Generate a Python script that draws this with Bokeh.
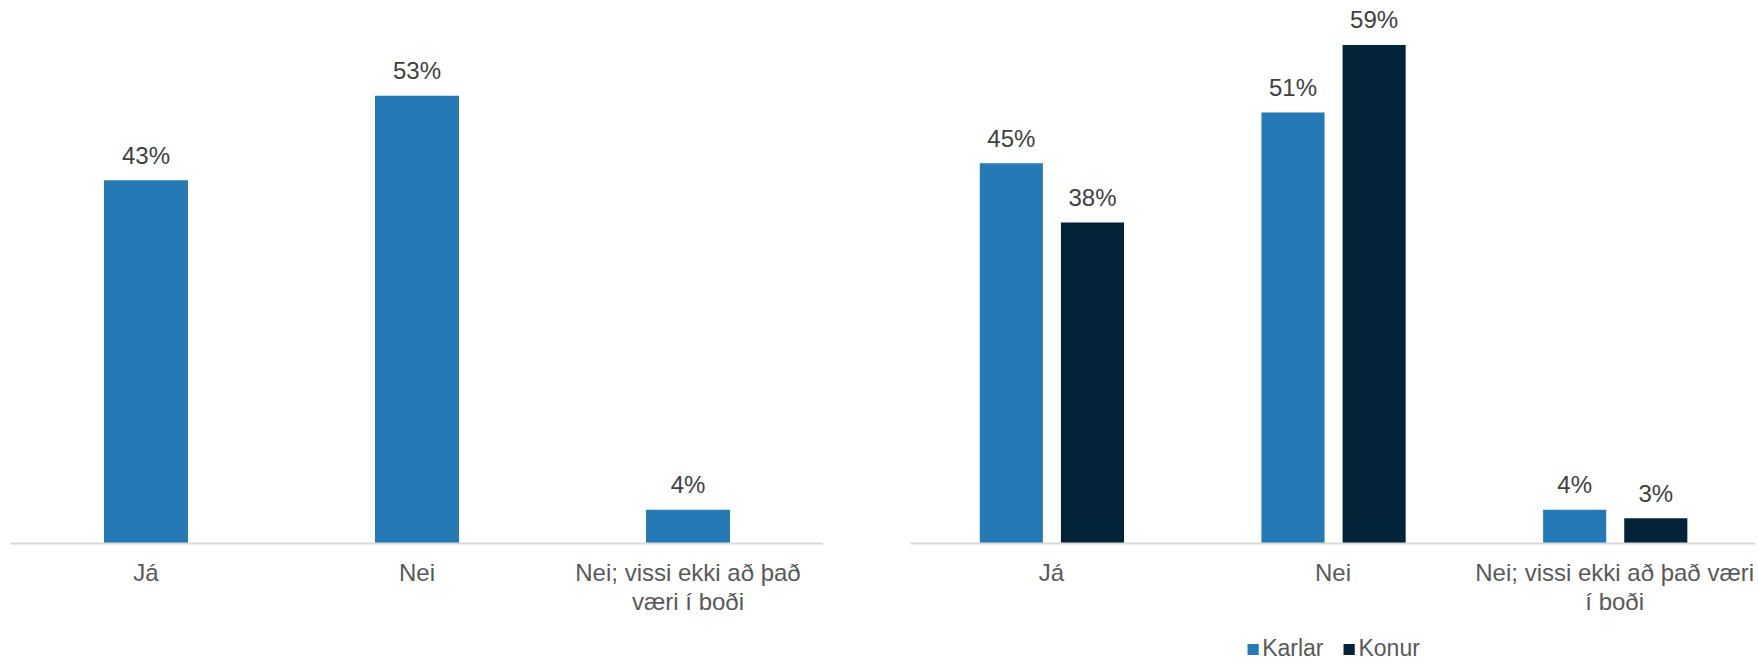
from bokeh.plotting import figure
from bokeh.layouts import row
from bokeh.models import ColumnDataSource, Legend, LegendItem, Range1d
from bokeh.transform import dodge
from bokeh.core.properties import value
from bokeh.embed import file_html
from bokeh.resources import INLINE

# ---- data ----
categories = ["Já", "Nei", "Nei; vissi ekki að það væri í boði"]
total = [43, 53, 4]
karlar = [45, 51, 4]
konur = [38, 59, 3]
series_names = ["Karlar", "Konur"]
left_labels = ["Já", "Nei", "Nei; vissi ekki að það\nværi í boði"]
right_labels = ["Já", "Nei", "Nei; vissi ekki að það væri\ní boði"]

BLUE = "#2579b5"
NAVY = "#022338"
FONT = "Liberation Sans"
LABEL_COLOR = "#404040"
CAT_COLOR = "#595959"
PX_PER_PCT = 8.45
H = 662
AXIS_FROM_TOP = 543
Y_MAX = AXIS_FROM_TOP / PX_PER_PCT
Y_MIN = -(H - AXIS_FROM_TOP) / PX_PER_PCT


def base_fig(width, left, right):
    p = figure(x_range=categories, y_range=Range1d(Y_MIN, Y_MAX), width=width, height=H,
               output_backend="svg", toolbar_location=None,
               min_border_left=left, min_border_right=right,
               min_border_top=0, min_border_bottom=0)
    p.outline_line_color = None
    p.xgrid.visible = False
    p.ygrid.visible = False
    p.yaxis.visible = False
    p.xaxis.fixed_location = 0
    p.xaxis.axis_line_color = "#d9d9d9"
    p.xaxis.axis_line_width = 2
    p.xaxis.major_tick_line_color = None
    p.xaxis.minor_tick_line_color = None
    p.xaxis.major_label_text_color = None
    p.background_fill_color = None
    p.border_fill_color = None
    return p


def cat_labels(p, labels):
    src = ColumnDataSource(dict(cat=categories, y=[0] * len(categories), lab=labels))
    p.text(x="cat", y="y", text="lab", source=src, text_align="center",
           text_baseline="top", y_offset=15, text_font=value(FONT),
           text_font_size="24px", text_color=CAT_COLOR, text_line_height=1.1)


# ---- left chart ----
src_l = ColumnDataSource(dict(cat=categories, val=total,
                              lab=[f"{v}%" for v in total]))
p1 = base_fig(880, 10, 57)
p1.vbar(x="cat", top="val", width=0.31, source=src_l, fill_color=BLUE, line_color=None)
p1.text(x="cat", y="val", text="lab", source=src_l, text_align="center",
        text_baseline="alphabetic", y_offset=-25, text_font=value(FONT),
        text_font_size="24px", text_color=LABEL_COLOR)
cat_labels(p1, left_labels)

# ---- right chart ----
src_r = ColumnDataSource(dict(cat=categories, k=karlar, w=konur,
                              kl=[f"{v}%" for v in karlar],
                              wl=[f"{v}%" for v in konur]))
p2 = base_fig(878, 30, 3)
r1 = p2.vbar(x=dodge("cat", -0.142, range=p2.x_range), top="k", width=0.224,
             source=src_r, fill_color=BLUE, line_color=None)
r2 = p2.vbar(x=dodge("cat", 0.146, range=p2.x_range), top="w", width=0.224,
             source=src_r, fill_color=NAVY, line_color=None)
p2.text(x=dodge("cat", -0.142, range=p2.x_range), y="k", text="kl", source=src_r,
        text_align="center", text_baseline="alphabetic", y_offset=-25,
        text_font=value(FONT), text_font_size="24px", text_color=LABEL_COLOR)
p2.text(x=dodge("cat", 0.146, range=p2.x_range), y="w", text="wl", source=src_r,
        text_align="center", text_baseline="alphabetic", y_offset=-25,
        text_font=value(FONT), text_font_size="24px", text_color=LABEL_COLOR)
cat_labels(p2, right_labels)

legend = Legend(items=[LegendItem(label=series_names[0], renderers=[r1]),
                       LegendItem(label=series_names[1], renderers=[r2])],
                orientation="horizontal", location="bottom_center",
                label_text_font=FONT, label_text_font_size="23px",
                label_text_color=CAT_COLOR, glyph_width=14, glyph_height=14,
                label_standoff=3, spacing=18, padding=0, margin=0,
                label_height=24, border_line_color=None,
                background_fill_alpha=0)
p2.add_layout(legend, "center")

layout = row(p1, p2)
open("out.html", "w").write(file_html(layout, INLINE))
